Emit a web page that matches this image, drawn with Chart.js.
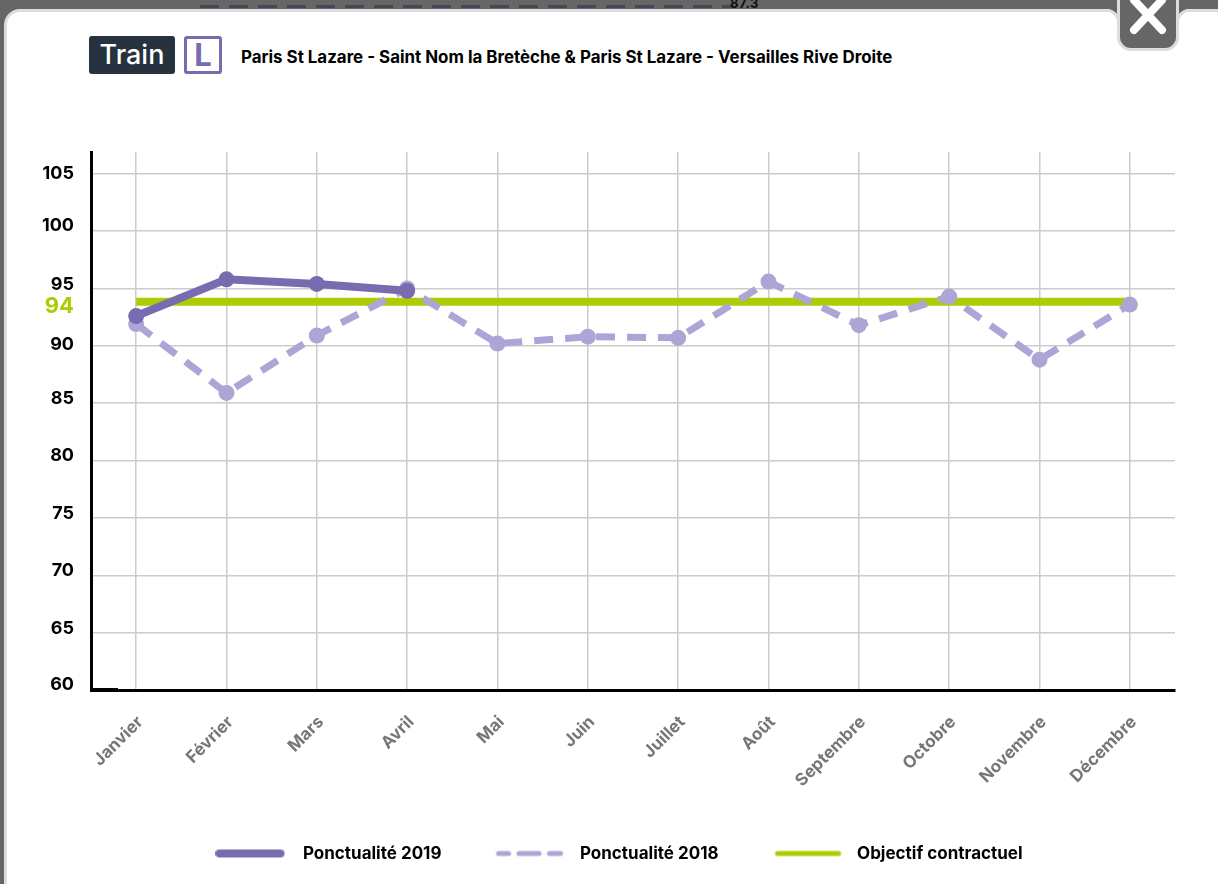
<!DOCTYPE html>
<html lang="fr">
<head>
<meta charset="utf-8">
<title>Ponctualité Train L</title>
<script src="https://cdn.jsdelivr.net/npm/chart.js@4"></script>
<style>
html,body{margin:0;padding:0;width:1218px;height:884px;overflow:hidden;background:#666;font-family:Inter,"Open Sans",sans-serif}
#stray{position:absolute;left:730px;top:-5px;font:700 13px Inter,sans-serif;color:#111;letter-spacing:.5px}
#dashes{position:absolute;left:200px;top:5px;width:535px;height:3px;background:repeating-linear-gradient(90deg,#4a4658 0 19px,transparent 19px 29px)}
#modal{position:absolute;left:4px;top:9px;width:1240px;height:890px;box-sizing:border-box;background:#fff;border:3px solid #ddd;border-radius:16px}
#notch{position:absolute;left:1117px;top:-4px;width:62px;height:55px;box-sizing:border-box;background:#666;border:3px solid #ddd;border-top:0;border-radius:0 0 14px 14px}
#notch svg{position:absolute;left:8px;top:2px}
.corner{position:absolute;top:9px;width:14px;height:14px}
#cl{left:1106px;background:radial-gradient(circle at 0 100%,#fff 11px,#ddd 11.5px 14px,#666 14.5px)}
#cr{left:1176px;background:radial-gradient(circle at 100% 100%,#fff 11px,#ddd 11.5px 14px,#666 14.5px)}
#badge{position:absolute;left:89px;top:36px;width:86px;height:38px;background:#26323e;border-radius:3px;color:#fff;font:500 27px/38px Inter,sans-serif;text-align:center}
#line{position:absolute;left:184px;top:36px;width:38px;height:38px;box-sizing:border-box;border:3px solid #786bb0;border-radius:3px;color:#786bb0;font:700 31px/32px Inter,sans-serif;text-align:center}
#title{position:absolute;left:241px;top:46px;font:700 16.9px/22px Inter,sans-serif;color:#000;white-space:nowrap}
canvas{position:absolute;left:0;top:0}
</style>
</head>
<body>
<div id="dashes"></div>
<div id="stray">87.3</div>
<div id="modal"></div>
<div id="cl" class="corner"></div>
<div id="cr" class="corner"></div>
<div id="notch"><svg width="40" height="40" viewBox="0 0 40 40"><path d="M6 2 L34 32 M34 2 L6 32" stroke="#fff" stroke-width="8" stroke-linecap="round"/></svg></div>
<div id="badge">Train</div>
<div id="line">L</div>
<div id="title">Paris St Lazare - Saint Nom la Bretèche &amp; Paris St Lazare - Versailles Rive Droite</div>
<canvas id="c" width="1218" height="884"></canvas>
<script>
const categories = ["Janvier","Février","Mars","Avril","Mai","Juin","Juillet","Août","Septembre","Octobre","Novembre","Décembre"];
const ponctualite2019 = [92.6,95.8,95.4,94.8,null,null,null,null,null,null,null,null];
const ponctualite2018 = [91.9,85.9,90.9,95.0,90.2,90.8,90.7,95.6,91.8,94.3,88.8,93.6];
const objectif = [93.85,93.85,93.85,93.85,93.85,93.85,93.85,93.85,93.85,93.85,93.85,93.85];
const yTicks = [60,65,70,75,80,85,90,94,95,100,105];
const objectifTick = 94;
const seriesNames = ["Ponctualité 2019","Ponctualité 2018","Objectif contractuel"];
const labelShift = {105:0,100:-6,95:-4,94:6,90:-1,85:-5,80:-5,75:-4,70:-5,65:-4,60:-5};

const PURPLE="#786bb0", LILAC="#ada5d6", GREEN="#aecb06";
const FONT='Inter, "Open Sans", sans-serif';

function swatch(color,h,segments){
  const cv=document.createElement('canvas');cv.width=79;cv.height=12;
  const x=cv.getContext('2d');x.strokeStyle=color;x.lineWidth=h;x.lineCap='round';
  segments.forEach(s=>{x.beginPath();x.moveTo(s[0]+h/2,6);x.lineTo(s[1]-h/2,6);x.stroke();});
  return cv;
}
const swatches=[swatch(PURPLE,8,[[0,69]]),swatch(LILAC,5,[[3.5,18.5],[24,49],[54.5,70.5]]),swatch(GREEN,5,[[5.5,71.5]])];

const tweakLabels={
  id:'tweakLabels',
  beforeDraw(chart){
    const s=chart.scales.y;
    s.getLabelItems().forEach((it,i)=>{
      if(it._moved) return;
      it.options.translation[1]+=labelShift[s.ticks[i].value]||0;
      it._moved=true;
    });
    chart.scales.x.getLabelItems().forEach(it=>{
      if(it._moved) return;
      it.options.translation[0]+=4;
      it.options.translation[1]+=2;
      it._moved=true;
    });
  },
  afterDatasetsDraw(chart){
    const a=chart.chartArea,c=chart.ctx;
    c.save();c.fillStyle='#000';c.fillRect(a.left-1,a.bottom-2,28,2);c.restore();
  }
};

new Chart(document.getElementById('c'),{
  type:'line',
  plugins:[tweakLabels],
  data:{labels:categories,datasets:[
    {label:seriesNames[0],data:ponctualite2019,borderColor:PURPLE,backgroundColor:PURPLE,borderWidth:8,pointRadius:8,pointBorderWidth:0,spanGaps:false,tension:0},
    {label:seriesNames[1],data:ponctualite2018,borderColor:LILAC,backgroundColor:LILAC,borderWidth:7,borderDash:[19,12],pointRadius:8,pointBorderWidth:0,tension:0},
    {label:seriesNames[2],data:objectif,borderColor:GREEN,backgroundColor:GREEN,borderWidth:8,pointRadius:0,tension:0}
  ]},
  options:{
    responsive:false,animation:false,
    layout:{padding:{left:63,right:43,top:152,bottom:12}},
    plugins:{
      title:{display:false},tooltip:{enabled:false},
      legend:{
        position:'bottom',
        labels:{
          usePointStyle:true,pointStyleWidth:79,padding:51,color:'#000',
          font:{family:FONT,size:17,weight:'700'},
          generateLabels(chart){
            return chart.data.datasets.map((d,i)=>({text:d.label,pointStyle:swatches[i],datasetIndex:i,fontColor:'#000',lineWidth:0}));
          }
        }
      }
    },
    scales:{
      x:{
        offset:true,
        afterFit(s){s.height=104;},
        border:{color:'#000',width:3},
        grid:{color:'#ccc',lineWidth:1.5,offset:false,drawTicks:false},
        ticks:{color:'#777',font:{family:FONT,size:17,weight:'700'},minRotation:45,maxRotation:45,padding:20,autoSkip:false}
      },
      y:{
        min:60,max:106.9,
        afterBuildTicks(s){s.ticks=yTicks.map(v=>({value:v}));},
        afterFit(s){s.width=28;s._computeLabelArea=()=>undefined;},
        border:{color:'#000',width:3},
        grid:{color:c=>c.tick&&c.tick.value===objectifTick?'rgba(0,0,0,0)':'#ccc',lineWidth:1.5,drawTicks:false},
        ticks:{
          autoSkip:false,padding:17,
          color:c=>c.tick.value===objectifTick?GREEN:'#000',
          font:c=>({family:FONT,weight:'700',size:c.tick&&c.tick.value===objectifTick?22:18}),
          callback:v=>String(v)
        }
      }
    }
  }
});
</script>
</body>
</html>
